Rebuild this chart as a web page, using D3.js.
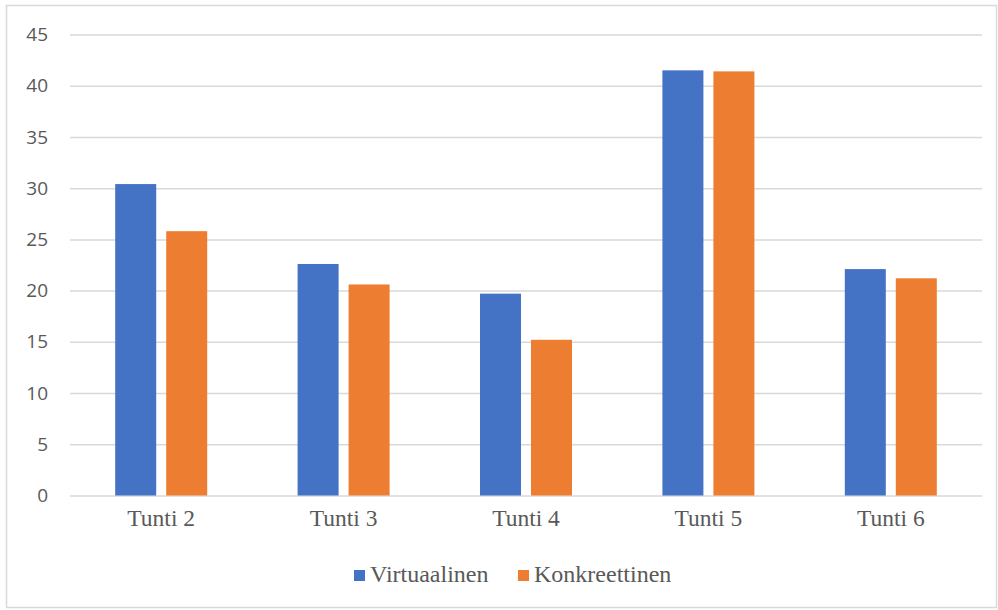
<!DOCTYPE html>
<html>
<head>
<meta charset="utf-8">
<script src="https://cdn.jsdelivr.net/npm/d3@7"></script>
<style>
  body { margin: 0; background: #fff; }
  svg { display: block; }
</style>
</head>
<body>
<svg id="chart" width="998" height="610"></svg>
<script>
// Chart data.
const categories = ['Tunti 2', 'Tunti 3', 'Tunti 4', 'Tunti 5', 'Tunti 6'];
const seriesNames = ['Virtuaalinen', 'Konkreettinen'];
const virtuaalinen = [30.4, 22.6, 19.7, 41.5, 22.1];
const konkreettinen = [25.8, 20.6, 15.2, 41.4, 21.2];
const yTicks = [0, 5, 10, 15, 20, 25, 30, 35, 40, 45];
const colors = ['#4472C4', '#ED7D31'];

const seriesValues = [virtuaalinen, konkreettinen];

const width = 998;
const height = 610;
const plot = { left: 70, right: 982, top: 34.5, bottom: 495.5 };

const svg = d3.select('#chart');

// Outer chart border.
svg.append('rect')
  .attr('x', 6.5)
  .attr('y', 5.5)
  .attr('width', width - 8)
  .attr('height', height - 8)
  .attr('fill', 'none')
  .attr('stroke', '#D9D9D9')
  .attr('stroke-width', 1.5);

const x = d3.scaleBand()
  .domain(categories)
  .range([plot.left, plot.right])
  .paddingInner(0)
  .paddingOuter(0);

const y = d3.scaleLinear()
  .domain([0, 45])
  .range([plot.bottom, plot.top]);

// Gridlines + y tick labels.
const yAxis = d3.axisLeft(y)
  .tickValues(yTicks)
  .tickSize(-(plot.right - plot.left))
  .tickPadding(22);

svg.append('g')
  .attr('transform', `translate(${plot.left},0)`)
  .call(yAxis)
  .call(g => g.select('.domain').remove())
  .call(g => g.selectAll('.tick line')
    .attr('stroke', '#D9D9D9')
    .attr('stroke-width', 1.5))
  .call(g => g.selectAll('.tick text')
    .attr('fill', '#595959')
    .attr('font-family', '"Open Sans", sans-serif')
    .attr('font-size', 19));

// Bars.
const barWidth = 41;
const barGap = 10;
const groupWidth = barWidth * 2 + barGap;

const rows = categories.map((c, i) => ({
  category: c,
  values: seriesValues.map((vals, s) => ({ series: s, value: vals[i] }))
}));

const groups = svg.append('g')
  .selectAll('g')
  .data(rows)
  .enter()
    .append('g')
    .attr('transform', d => `translate(${x(d.category) + (x.bandwidth() - groupWidth) / 2},0)`);

groups.selectAll('rect')
  .data(d => d.values)
  .enter()
    .append('rect')
    .attr('x', d => d.series * (barWidth + barGap))
    .attr('y', d => y(d.value))
    .attr('width', barWidth)
    .attr('height', d => y(0) - y(d.value))
    .attr('fill', d => colors[d.series]);

// Category labels.
const xAxis = d3.axisBottom(x)
  .tickSize(0)
  .tickPadding(14);

svg.append('g')
  .attr('transform', `translate(0,${plot.bottom})`)
  .call(xAxis)
  .call(g => g.select('.domain').remove())
  .call(g => g.selectAll('.tick text')
    .attr('fill', '#595959')
    .attr('font-family', '"Liberation Serif", "Times New Roman", serif')
    .attr('font-size', 23.5));

// Legend.
const legendItems = [
  { name: seriesNames[0], color: colors[0], x: 354 },
  { name: seriesNames[1], color: colors[1], x: 518 }
];

const legend = svg.append('g')
  .selectAll('g')
  .data(legendItems)
  .enter()
    .append('g')
    .attr('transform', d => `translate(${d.x},570)`);

legend.append('rect')
  .attr('width', 11)
  .attr('height', 11)
  .attr('fill', d => d.color);

legend.append('text')
  .attr('x', 16)
  .attr('y', 12)
  .attr('fill', '#595959')
  .attr('font-family', '"Liberation Serif", "Times New Roman", serif')
  .attr('font-size', 24)
  .text(d => d.name);
</script>
</body>
</html>
